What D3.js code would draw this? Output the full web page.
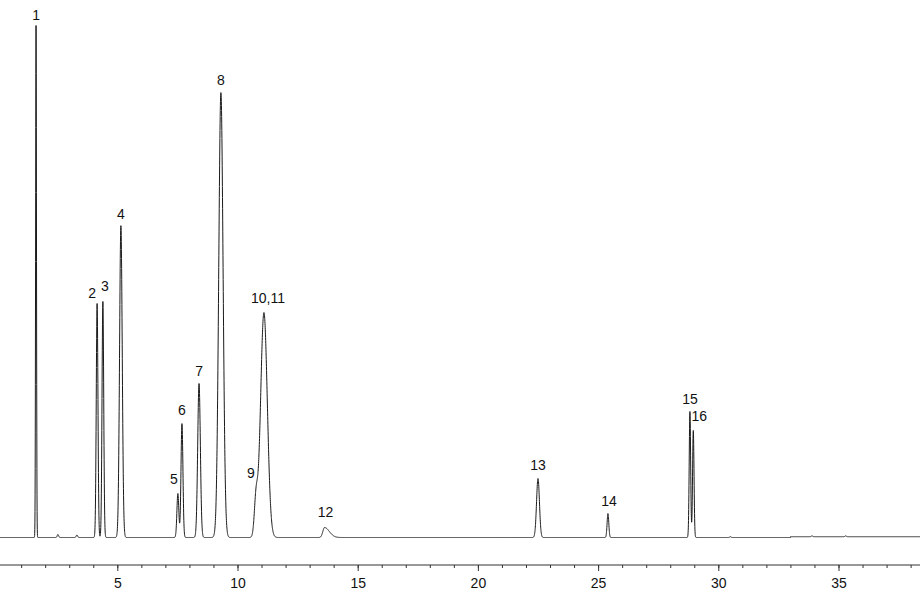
<!DOCTYPE html>
<html>
<head>
<meta charset="utf-8">
<script src="https://cdn.jsdelivr.net/npm/d3@7"></script>
<style>
  body { margin: 0; background: #fff; }
  svg { display: block; }
</style>
</head>
<body>
<svg id="chart" width="920" height="600"></svg>
<script>
// Peak table (retention time in min, height, width sigma in min)
const peakLabels = ["1", "2", "3", "4", "5", "6", "7", "8", "9", "10,11", "12", "13", "14", "15", "16"];
const peakTimes = [1.62, 4.16, 4.40, 5.15, 7.52, 7.69, 8.40, 9.31, 10.77, 11.10, 13.62, 22.50, 25.41, 28.82, 28.96];
const peakHeights = [512, 234, 236, 312, 44, 114, 154, 445, 36, 225, 10, 59, 24, 126, 107];
const peakWidths = [0.018, 0.035, 0.035, 0.055, 0.04, 0.04, 0.055, 0.09, 0.07, 0.14, 0.07, 0.06, 0.035, 0.03, 0.03];

// small unlabelled bumps on the baseline
const minorTimes = [2.53, 3.32, 30.5, 33.9, 35.3];
const minorHeights = [3, 2.5, 0.8, 0.8, 0.8];

// label nudges (px) from the apex, so overlapping names don't collide
const labelDx = [0, -5, 2, 0, -4, 0, 0, 0, -5, 4, 1, 0, 1, 0, 6];
const labelDy = [-6, -6, -11, -7, -9, -8, -8, -8, -10, -9, -11, -9, -8, -7, -9];

const tickValues = [5, 10, 15, 20, 25, 30, 35];

const width = 920, height = 600;
const svg = d3.select("#chart");

// x scale: minutes -> px
const x = d3.scaleLinear().domain([0, 40]).range([-2.9, 958.7]);
// y scale: signal -> px
const y = d3.scaleLinear().domain([0, 520]).range([537.5, 17.5]);

// baseline drift: tiny rise toward the end of the run
function baseline(t) {
  return t > 33 ? 0.8 : 0;
}

function signal(t) {
  let s = baseline(t);
  peakTimes.forEach((rt, i) => {
    let w = peakWidths[i];
    // peak 12 tails a bit
    if (i === 10 && t > rt) w = 0.2;
    const z = (t - rt) / w;
    s += peakHeights[i] * Math.exp(-0.5 * z * z);
  });
  minorTimes.forEach((rt, i) => {
    const z = (t - rt) / 0.03;
    s += minorHeights[i] * Math.exp(-0.5 * z * z);
  });
  return s;
}

const times = d3.range(0, 38.6, 0.004);
const trace = times.map(t => [t, signal(t)]);

const line = d3.line()
  .x(d => x(d[0]))
  .y(d => y(d[1]));

svg.append("path")
  .datum(trace)
  .attr("fill", "none")
  .attr("stroke", "#1a1a1a")
  .attr("stroke-width", 1)
  .attr("d", line);

// peak labels
svg.append("g")
  .selectAll("text")
  .data(peakLabels)
  .enter()
  .append("text")
  .attr("x", (d, i) => x(peakTimes[i]) + labelDx[i])
  .attr("y", (d, i) => y(signal(peakTimes[i])) + labelDy[i])
  .attr("text-anchor", "middle")
  .attr("font-family", "Liberation Sans, Arial, sans-serif")
  .attr("font-size", 14)
  .attr("fill", "#111")
  .text(d => d);

// x axis: major ticks every 5, minor every 1
const axisY = 565;
const axisG = svg.append("g").attr("transform", `translate(0,${axisY})`);

axisG.append("g")
  .call(d3.axisBottom(x).tickValues(d3.range(1, 39)).tickSize(3).tickFormat(""))
  .call(g => g.select(".domain").remove());

axisG.append("g")
  .call(d3.axisBottom(x).tickValues(tickValues).tickSize(6).tickPadding(7).tickFormat(d3.format("d")))
  .call(g => g.select(".domain").remove())
  .call(g => g.selectAll("text")
    .attr("font-family", "Liberation Sans, Arial, sans-serif")
    .attr("font-size", 14)
    .attr("fill", "#111"));

axisG.append("line")
  .attr("x1", 0).attr("x2", width)
  .attr("stroke", "#333");

axisG.selectAll(".tick line").attr("stroke", "#333");
</script>
</body>
</html>
